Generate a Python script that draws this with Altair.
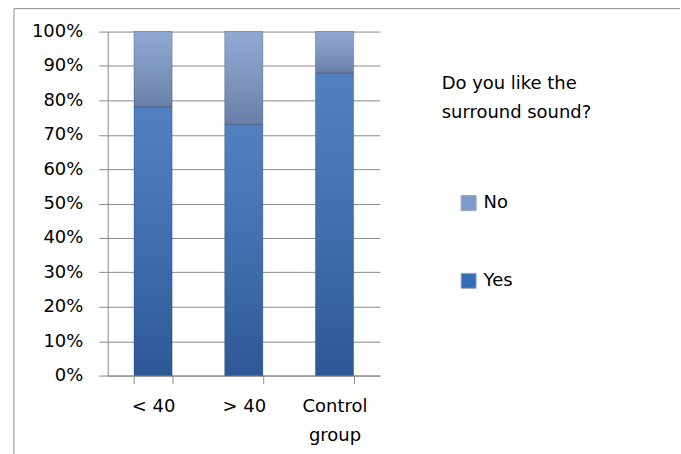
import altair as alt
import pandas as pd

CATEGORIES = ["< 40", "> 40", "Control group"]
YES = [78, 73, 88]
NO = [22, 27, 12]
ANSWERS = ["No", "Yes"]
LEGEND_TITLE = ["Do you like the", "surround sound?"]
Y_TICKS = [0, 0.1, 0.2, 0.3, 0.4, 0.5, 0.6, 0.7, 0.8, 0.9, 1.0]

rows = []
for c, y, n in zip(CATEGORIES, YES, NO):
    rows.append({"group": c, "answer": "Yes", "value": y, "ord": 0})
    rows.append({"group": c, "answer": "No", "value": n, "ord": 1})
df = pd.DataFrame(rows)

FONT = "DejaVu Sans"
GRID = "#8a8a8a"
W, H = 273, 345
FS = 18

base = alt.Chart(df)

x_enc = alt.X(
    "group:N",
    sort=CATEGORIES,
    title=None,
    scale=alt.Scale(paddingInner=0.58, paddingOuter=0.29),
    axis=alt.Axis(
        labelAngle=0,
        labelFontSize=FS,
        labelFont=FONT,
        labelColor="#000000",
        labelPadding=14,
        labelLineHeight=29,
        labelExpr="datum.label == 'Control group' ? ['Control', 'group'] : datum.label",
        tickBand="extent",
        tickSize=8,
        tickColor=GRID,
        domainColor=GRID,
        grid=False,
    ),
)
y_enc = alt.Y(
    "value:Q",
    stack="normalize",
    title=None,
    scale=alt.Scale(domain=[0, 1], nice=False),
    axis=alt.Axis(
        values=Y_TICKS,
        tickCount=20,
        labelOverlap=False,
        format=".0%",
        labelFontSize=FS,
        labelFont=FONT,
        labelColor="#000000",
        labelPadding=16,
        tickSize=9,
        tickColor=GRID,
        domainColor=GRID,
        gridColor=GRID,
        grid=True,
    ),
)

bars = base.mark_bar().encode(
    x=x_enc,
    y=y_enc,
    order=alt.Order("ord:Q"),
    color=alt.Color(
        "answer:N",
        scale=alt.Scale(domain=ANSWERS, range=["#7f9acb", "#356bb7"]),
        legend=alt.Legend(
            title=None,
            orient="none",
            legendX=353,
            legendY=163,
            symbolType="square",
            symbolSize=225,
            symbolStrokeColor="#9aa7bb",
            symbolStrokeWidth=1,
            labelFontSize=FS,
            labelFont=FONT,
            labelColor="#000000",
            labelOffset=6,
            rowPadding=58,
            padding=0,
        ),
    ),
)

shade = base.mark_bar(
    fill={
        "gradient": "linear",
        "x1": 0, "y1": 0, "x2": 0, "y2": 1,
        "stops": [
            {"offset": 0, "color": "rgba(255,255,255,0.14)"},
            {"offset": 1, "color": "rgba(0,0,0,0.18)"},
        ],
    },
    stroke="rgba(30,50,90,0.3)",
    strokeWidth=1,
).encode(
    x=x_enc,
    y=y_enc,
    order=alt.Order("ord:Q"),
)

title_df = pd.DataFrame({"t": ["\n".join(LEGEND_TITLE)]})
title = alt.Chart(title_df).mark_text(
    align="left",
    baseline="alphabetic",
    fontSize=FS,
    font=FONT,
    color="#000000",
    lineBreak="\n",
    lineHeight=29,
).encode(x=alt.value(335), y=alt.value(58), text="t:N")

one = pd.DataFrame({"a": [0]})
border_left = alt.Chart(one).mark_rule(color="#8c8c8c", strokeWidth=1).encode(
    x=alt.value(-94), y=alt.value(-23), y2=alt.value(424)
)
border_top = alt.Chart(one).mark_rule(color="#8c8c8c", strokeWidth=1).encode(
    x=alt.value(-94), x2=alt.value(574), y=alt.value(-23)
)

chart = (
    alt.layer(bars, shade, title, border_left, border_top)
    .properties(width=W, height=H, padding={"left": 13, "top": 7, "right": 0, "bottom": 0})
    .configure_view(stroke=None)
)

chart.save("out.html", embed_options={"renderer": "svg", "actions": False})
